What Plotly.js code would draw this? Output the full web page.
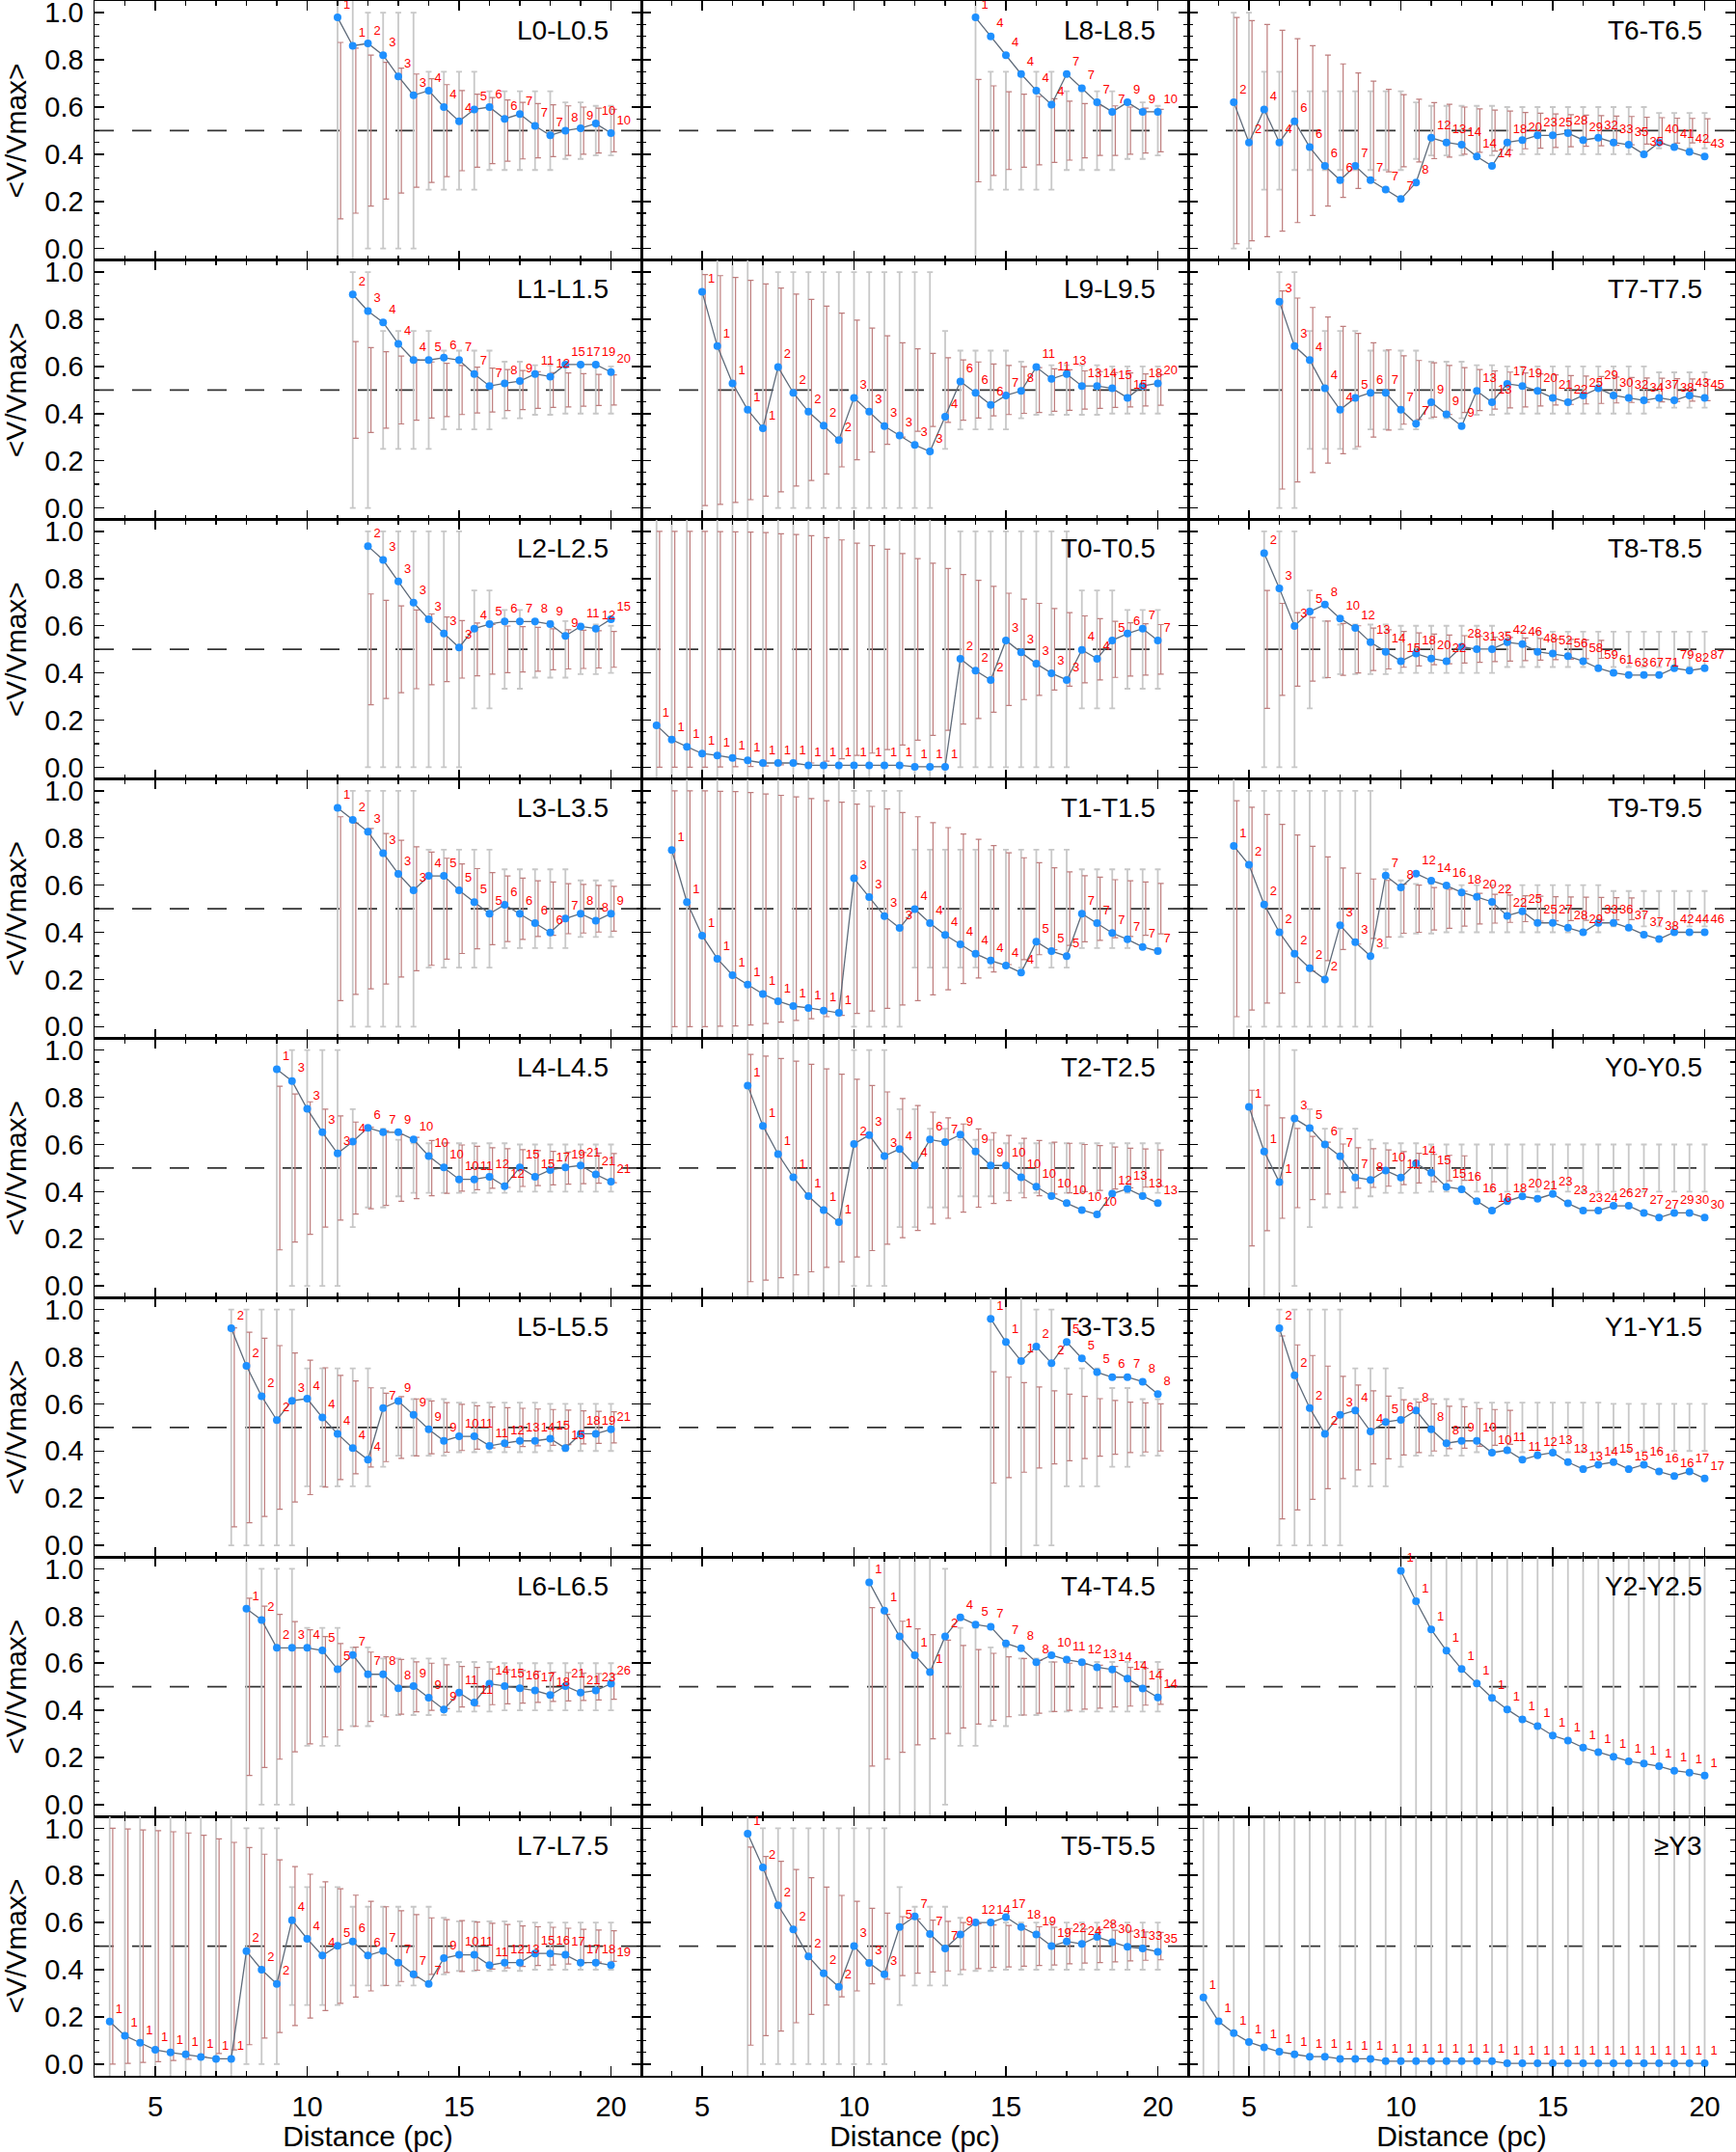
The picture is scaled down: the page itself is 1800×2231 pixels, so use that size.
<!DOCTYPE html>
<html><head><meta charset="utf-8">
<script src="https://cdn.plot.ly/plotly-3.0.1.min.js"></script>
<style>html,body{margin:0;padding:0;background:#fff}#chart{width:1800px;height:2231px}</style>
</head><body><div id="chart"></div>
<script>
// distance grid (pc)
const distances = [3.5,4,4.5,5,5.5,6,6.5,7,7.5,8,8.5,9,9.5,10,10.5,11,11.5,12,12.5,13,13.5,14,14.5,15,15.5,16,16.5,17,17.5,18,18.5,19,19.5,20];

// gray reference bars: half-width by minimum count
const grayMinCount = [1, 2, 4, 6, 8, 10, 15, 36];
const grayHalf     = [0.6, 0.5, 0.25, 0.167, 0.12, 0.105, 0.1, 0.075];

const panelNames = ["L0-L0.5","L8-L8.5","T6-T6.5","L1-L1.5","L9-L9.5","T7-T7.5","L2-L2.5","T0-T0.5","T8-T8.5",
  "L3-L3.5","T1-T1.5","T9-T9.5","L4-L4.5","T2-T2.5","Y0-Y0.5","L5-L5.5","T3-T3.5","Y1-Y1.5",
  "L6-L6.5","T4-T4.5","Y2-Y2.5","L7-L7.5","T5-T5.5","\u2265Y3"];

const L0_values = [0.98,0.86,0.87,0.82,0.73,0.65,0.67,0.60,0.54,0.59,0.60,0.55,0.57,0.52,0.48,0.50,0.51,0.53,0.49];
const L0_counts = [1,1,2,3,3,3,4,4,4,5,6,6,7,7,7,8,9,10,10];
const L0_redHalf = [0.374,0.35,0.32,0.29,0.265,0.24,0.22,0.195,0.17,0.155,0.14,0.13,0.12,0.115,0.11,0.105,0.10,0.095,0.09];

const L8_values = [0.98,0.90,0.82,0.74,0.67,0.61,0.74,0.68,0.62,0.58,0.62,0.58,0.58];
const L8_counts = [1,4,4,4,4,4,7,7,7,7,9,9,10];
const L8_redHalf = [0.217,0.19,0.165,0.155,0.145,0.135,0.125,0.115,0.105,0.105,0.10,0.095,0.09];

const T6_values = [0.62,0.45,0.59,0.45,0.54,0.43,0.35,0.29,0.35,0.29,0.25,0.21,0.28,0.47,0.45,0.44,0.39,0.35,0.45,0.46,0.48,0.48,0.49,0.46,0.47,0.45,0.44,0.40,0.45,0.43,0.41,0.39];
const T6_counts = [2,2,4,4,6,6,6,6,7,7,7,7,8,12,13,14,14,14,18,20,23,25,28,29,32,33,35,35,40,41,42,43];
const T6_redHalf = [0.48,0.467,0.45,0.426,0.39,0.36,0.32,0.283,0.245,0.21,0.175,0.153,0.133,0.119,0.112,0.10,0.092,0.087,0.083,0.077,0.074,0.071,0.068,0.066,0.064,0.062,0.06,0.057,0.055,0.053,0.052,0.05];

const L1_values = [0.905,0.835,0.787,0.696,0.627,0.627,0.637,0.627,0.568,0.517,0.528,0.538,0.568,0.557,0.608,0.608,0.608,0.576];
const L1_counts = [2,3,4,4,4,5,6,7,7,7,8,9,11,12,15,17,19,20];
const L1_redHalf = [0.205,0.18,0.162,0.144,0.128,0.119,0.113,0.104,0.097,0.093,0.087,0.083,0.078,0.074,0.072,0.069,0.066,0.064];

const L9_values = [0.917,0.686,0.528,0.416,0.338,0.597,0.488,0.408,0.349,0.288,0.467,0.408,0.347,0.307,0.267,0.239,0.387,0.536,0.488,0.437,0.477,0.496,0.597,0.547,0.568,0.517,0.517,0.507,0.467,0.517,0.528];
const L9_counts = [1,1,1,1,1,2,2,2,2,2,3,3,3,3,3,3,4,6,6,6,7,8,11,11,13,13,14,15,15,18,20];
const L9_redHalf = [0.49,0.485,0.477,0.465,0.45,0.432,0.407,0.384,0.356,0.326,0.296,0.263,0.23,0.2,0.175,0.155,0.137,0.128,0.119,0.11,0.104,0.099,0.095,0.09,0.086,0.081,0.078,0.074,0.072,0.068,0.065];

const T7_values = [0.875,0.686,0.627,0.507,0.416,0.467,0.488,0.488,0.416,0.357,0.448,0.397,0.347,0.496,0.448,0.526,0.517,0.496,0.467,0.448,0.477,0.507,0.477,0.467,0.456,0.467,0.456,0.477,0.467];
const T7_counts = [3,3,4,4,4,5,6,7,7,7,9,9,9,13,13,17,19,20,21,22,25,29,30,32,34,37,38,43,45];
const T7_redHalf = [0.42,0.39,0.35,0.31,0.27,0.24,0.2,0.17,0.145,0.125,0.115,0.104,0.095,0.087,0.081,0.076,0.072,0.068,0.064,0.061,0.059,0.057,0.055,0.053,0.051,0.05,0.048,0.047,0.045];

const L2_values = [0.938,0.879,0.788,0.698,0.628,0.567,0.508,0.588,0.607,0.618,0.618,0.618,0.607,0.557,0.597,0.588,0.628];
const L2_counts = [2,3,3,3,3,3,3,4,5,6,7,8,9,9,11,12,15];
const L2_redHalf = [0.235,0.208,0.184,0.167,0.15,0.137,0.122,0.112,0.105,0.099,0.096,0.093,0.087,0.083,0.081,0.079,0.076];

const T0_values = [0.178,0.117,0.087,0.058,0.050,0.039,0.029,0.018,0.018,0.018,0.008,0.008,0.008,0.008,0.008,0.008,0.008,0.002,0.002,0.002,0.460,0.410,0.370,0.538,0.487,0.439,0.399,0.370,0.498,0.460,0.538,0.567,0.588,0.538];
const T0_counts = [1,1,1,1,1,1,1,1,1,1,1,1,1,1,1,1,1,1,1,1,2,2,2,3,3,3,3,3,4,4,5,6,7,7];
const T0_redHalf = [0.5,0.5,0.5,0.5,0.499,0.498,0.497,0.495,0.49,0.487,0.482,0.474,0.464,0.45,0.44,0.425,0.406,0.385,0.365,0.343,0.317,0.293,0.267,0.238,0.213,0.195,0.173,0.156,0.142,0.13,0.119,0.113,0.109,0.105];

const T8_values = [0.908,0.759,0.599,0.660,0.690,0.631,0.591,0.530,0.490,0.450,0.482,0.461,0.450,0.511,0.501,0.501,0.530,0.522,0.490,0.482,0.471,0.450,0.420,0.401,0.391,0.391,0.391,0.420,0.410,0.420];
const T8_counts = [2,3,3,5,8,10,12,13,14,15,18,20,22,28,31,35,42,46,48,52,56,58,59,61,63,67,71,79,82,87];
const T8_redHalf = [0.25,0.195,0.156,0.135,0.12,0.11,0.1,0.09,0.083,0.076,0.07,0.065,0.061,0.058,0.055,0.052,0.05,0.048,0.046,0.044,0.042,0.04,0.038,null,null,null,null,null,null,null];

const L3_values = [0.928,0.877,0.827,0.736,0.648,0.578,0.639,0.639,0.578,0.528,0.479,0.517,0.479,0.439,0.399,0.458,0.479,0.449,0.479];
const L3_counts = [1,2,3,3,3,3,4,5,5,5,5,6,6,6,6,7,8,8,9];
const L3_redHalf = [0.39,0.363,0.34,0.319,0.29,0.263,0.24,0.214,0.19,0.17,0.153,0.139,0.13,0.118,0.113,0.106,0.103,0.099,0.095];

const T1_values = [0.749,0.528,0.386,0.288,0.218,0.178,0.138,0.108,0.087,0.079,0.068,0.058,0.629,0.549,0.469,0.418,0.498,0.439,0.389,0.349,0.309,0.280,0.259,0.229,0.360,0.320,0.299,0.479,0.439,0.397,0.370,0.338,0.320];
const T1_counts = [1,1,1,1,1,1,1,1,1,1,1,1,3,3,3,3,4,4,4,4,4,4,4,4,5,5,5,7,7,7,7,7,7];
const T1_redHalf = [0.5,0.5,0.5,0.498,0.497,0.493,0.487,0.481,0.474,0.467,0.458,0.452,0.444,0.434,0.423,0.408,0.39,0.365,0.344,0.317,0.294,0.268,0.237,0.216,0.195,0.174,0.156,0.14,0.134,0.123,0.118,0.113,0.107];

const T9_values = [0.766,0.686,0.518,0.400,0.309,0.248,0.200,0.430,0.358,0.299,0.640,0.590,0.649,0.619,0.598,0.569,0.550,0.529,0.470,0.489,0.440,0.440,0.419,0.400,0.440,0.440,0.419,0.390,0.371,0.400,0.400,0.400];
const T9_counts = [1,2,2,2,2,2,2,3,3,3,7,8,12,14,16,18,20,22,22,25,25,27,28,29,33,36,37,37,38,42,44,46];
const T9_redHalf = [0.458,0.43,0.40,0.358,0.313,0.265,0.22,0.173,0.15,0.126,0.12,0.104,0.1,0.09,0.083,0.074,0.065,0.061,0.058,0.055,0.053,0.051,0.05,0.049,0.048,0.047,0.046,null,null,null,null,null];

const L4_values = [0.919,0.869,0.751,0.652,0.562,0.612,0.671,0.652,0.652,0.621,0.551,0.503,0.452,0.452,0.463,0.423,0.503,0.463,0.492,0.503,0.511,0.473,0.442];
const L4_counts = [1,3,3,3,3,4,6,7,9,10,10,10,10,11,12,12,15,15,17,19,21,21,21];
const L4_redHalf = [0.347,0.314,0.281,0.25,0.221,0.195,0.173,0.158,0.141,0.13,0.117,0.107,0.098,0.092,0.086,0.082,0.078,0.074,0.071,0.068,0.066,0.064,0.062];

const T2_values = [0.850,0.679,0.559,0.461,0.381,0.322,0.271,0.602,0.640,0.551,0.581,0.511,0.621,0.610,0.642,0.570,0.511,0.511,0.461,0.421,0.381,0.351,0.322,0.303,0.391,0.412,0.381,0.351];
const T2_counts = [1,1,1,1,1,1,1,2,3,3,4,4,6,7,9,9,9,10,10,10,10,10,10,10,12,13,13,13];
const T2_redHalf = [0.482,0.475,0.465,0.453,0.44,0.421,0.398,0.377,0.35,0.323,0.295,0.265,0.237,0.213,0.187,0.166,0.15,0.138,0.126,0.117,0.11,0.105,0.1,0.095,0.089,0.084,0.081,0.077];

const Y0_values = [0.76,0.57,0.44,0.71,0.67,0.60,0.55,0.46,0.45,0.49,0.46,0.52,0.48,0.42,0.41,0.36,0.32,0.36,0.38,0.37,0.39,0.35,0.32,0.32,0.34,0.34,0.31,0.29,0.31,0.31,0.29];
const Y0_counts = [1,1,1,3,5,6,7,7,8,10,11,14,15,15,16,16,16,18,20,21,23,23,23,24,26,27,27,27,29,30,30];
const Y0_redHalf = [0.33,0.266,0.213,0.168,0.134,0.11,0.102,0.086,0.082,0.077,0.07,0.063,0.058,0.054,0.052,null,null,null,null,null,null,null,null,null,null,null,null,null,null,null,null];

const L5_values = [0.921,0.761,0.632,0.531,0.613,0.622,0.542,0.473,0.412,0.363,0.582,0.612,0.553,0.492,0.443,0.462,0.462,0.422,0.433,0.443,0.443,0.452,0.412,0.473,0.473,0.492];
const L5_counts = [2,2,2,2,3,4,4,4,4,4,7,9,9,9,9,10,11,11,12,13,14,15,15,18,19,21];
const L5_redHalf = [0.422,0.404,0.378,0.347,0.316,0.285,0.253,0.221,0.197,0.168,0.145,0.131,0.121,0.112,0.105,0.098,0.092,0.087,0.084,0.081,0.078,0.076,0.073,0.07,0.068,0.066];

const T3_values = [0.961,0.862,0.782,0.843,0.772,0.862,0.793,0.734,0.713,0.713,0.694,0.641];
const T3_counts = [1,1,1,2,2,5,5,5,6,7,8,8];
const T3_redHalf = [0.236,0.213,0.19,0.172,0.155,0.141,0.132,0.122,0.114,0.107,0.104,0.1];

const Y1_values = [0.921,0.721,0.582,0.473,0.553,0.572,0.483,0.523,0.532,0.572,0.492,0.433,0.443,0.443,0.393,0.403,0.363,0.382,0.393,0.353,0.323,0.342,0.353,0.323,0.342,0.313,0.294,0.313,0.283];
const Y1_counts = [2,2,2,2,3,4,4,5,6,8,8,8,9,10,10,11,11,12,13,13,13,14,15,15,16,16,16,17,17];
const Y1_redHalf = [0.388,0.35,0.305,0.26,0.217,0.18,0.155,0.133,0.117,0.107,0.1,0.09,0.088,0.08,0.076,0.072,null,null,null,null,null,null,null,null,null,null,null,null,null];

const L6_values = [0.831,0.783,0.665,0.665,0.665,0.654,0.574,0.635,0.553,0.553,0.494,0.503,0.454,0.404,0.475,0.433,0.513,0.503,0.494,0.484,0.465,0.503,0.475,0.484,0.513];
const L6_counts = [1,2,2,3,4,5,5,7,7,8,8,9,9,9,11,11,14,15,16,17,18,21,21,23,26];
const L6_redHalf = [0.376,0.342,0.307,0.276,0.242,0.213,0.183,0.168,0.147,0.127,0.116,0.106,0.1,0.093,0.086,0.082,0.076,0.072,0.069,0.066,0.062,0.06,0.058,0.056,0.053];

const T4_values = [0.943,0.823,0.714,0.634,0.562,0.714,0.794,0.764,0.754,0.684,0.663,0.604,0.634,0.615,0.604,0.583,0.573,0.535,0.493,0.455];
const T4_counts = [1,1,1,1,1,2,4,5,7,7,8,8,10,11,12,13,14,14,14,14];
const T4_redHalf = [0.336,0.307,0.278,0.246,0.221,0.198,0.175,0.158,0.142,0.127,0.12,0.112,0.105,0.1,0.095,0.091,0.086,0.082,0.078,0.074];

const Y2_values = [0.992,0.863,0.743,0.653,0.575,0.514,0.453,0.404,0.362,0.333,0.293,0.272,0.242,0.223,0.203,0.184,0.174,0.163,0.144,0.136,0.123];
const Y2_counts = [1,1,1,1,1,1,1,1,1,1,1,1,1,1,1,1,1,1,1,1,1];
const Y2_redHalf = Y2_values.map(() => null);

const L7_values = [0.180,0.120,0.090,0.060,0.049,0.041,0.030,0.022,0.022,0.479,0.400,0.340,0.610,0.531,0.460,0.501,0.520,0.460,0.480,0.430,0.381,0.340,0.449,0.463,0.463,0.419,0.430,0.430,0.469,0.469,0.463,0.430,0.430,0.419];
const L7_counts = [1,1,1,1,1,1,1,1,1,2,2,2,4,4,4,5,6,6,7,7,7,7,9,10,11,11,12,13,15,16,17,17,18,19];
const L7_redHalf = [0.5,0.497,0.493,0.49,0.485,0.48,0.47,0.455,0.44,0.418,0.39,0.366,0.337,0.305,0.273,0.243,0.216,0.19,0.167,0.15,0.134,0.12,0.112,0.108,0.102,0.097,0.092,0.086,0.082,0.08,0.076,0.071,0.068,0.065];

const T5_values = [0.977,0.834,0.673,0.571,0.456,0.385,0.327,0.500,0.429,0.381,0.581,0.626,0.551,0.490,0.549,0.600,0.600,0.623,0.581,0.549,0.500,0.520,0.509,0.539,0.517,0.497,0.490,0.476];
const T5_counts = [1,2,2,2,2,2,2,3,3,3,5,7,7,7,9,12,14,17,18,19,19,22,24,28,30,31,33,35];
const T5_redHalf = [0.42,0.38,0.36,0.325,0.29,0.25,0.215,0.19,0.16,0.14,0.125,0.115,0.11,0.105,0.10,0.095,0.09,0.088,0.085,0.082,0.08,0.075,0.072,0.07,0.067,0.063,0.06,0.058];

const Y3_values = [0.282,0.181,0.131,0.093,0.071,0.052,0.041,0.031,0.031,0.022,0.022,0.022,0.012,0.012,0.012,0.012,0.012,0.012,0.012,0.012,0.003,0.003,0.003,0.003,0.003,0.003,0.003,0.003,0.003,0.003,0.003,0.003,0.003,0.003];
const Y3_counts = Y3_values.map(() => 1);
const Y3_redHalf = Y3_values.map(() => null);

const panels = [
  [L0_values,L0_counts,L0_redHalf],[L8_values,L8_counts,L8_redHalf],[T6_values,T6_counts,T6_redHalf],
  [L1_values,L1_counts,L1_redHalf],[L9_values,L9_counts,L9_redHalf],[T7_values,T7_counts,T7_redHalf],
  [L2_values,L2_counts,L2_redHalf],[T0_values,T0_counts,T0_redHalf],[T8_values,T8_counts,T8_redHalf],
  [L3_values,L3_counts,L3_redHalf],[T1_values,T1_counts,T1_redHalf],[T9_values,T9_counts,T9_redHalf],
  [L4_values,L4_counts,L4_redHalf],[T2_values,T2_counts,T2_redHalf],[Y0_values,Y0_counts,Y0_redHalf],
  [L5_values,L5_counts,L5_redHalf],[T3_values,T3_counts,T3_redHalf],[Y1_values,Y1_counts,Y1_redHalf],
  [L6_values,L6_counts,L6_redHalf],[T4_values,T4_counts,T4_redHalf],[Y2_values,Y2_counts,Y2_redHalf],
  [L7_values,L7_counts,L7_redHalf],[T5_values,T5_counts,T5_redHalf],[Y3_values,Y3_counts,Y3_redHalf]
];

function grayFor(n){ let h = grayHalf[0]; for (let i=0;i<grayMinCount.length;i++){ if (n>=grayMinCount[i]) h = grayHalf[i]; } return h; }

const FONT = "Liberation Sans, Arial, Helvetica, sans-serif";
const NROWS = 8, NCOLS = 3;
const data = [];
const layout = {
  width: 1800, height: 2231,
  margin: {l: 98, r: 1, t: 1, b: 79},
  paper_bgcolor: '#fff', plot_bgcolor: '#fff',
  showlegend: false,
  font: {family: FONT, color: '#000'},
  shapes: [], annotations: []
};

panels.forEach((p, i) => {
  const [vals, counts, red] = p;
  const xs = distances.slice(distances.length - vals.length);
  const r = Math.floor(i / NCOLS), c = i % NCOLS;
  const k = i === 0 ? '' : String(i + 1);
  const xa = 'x' + k, ya = 'y' + k;

  // gray bars
  data.push({
    type: 'scatter', mode: 'markers', xaxis: xa, yaxis: ya, hoverinfo: 'skip',
    x: xs, y: xs.map(() => 0.5),
    marker: {size: 2, color: 'rgba(0,0,0,0)'},
    error_y: {type: 'data', symmetric: true, array: counts.map(grayFor), color: '#c8c8c8', thickness: 1.8, width: 3}
  });
  // red bars (offset slightly right)
  const rx = [], rh = [];
  xs.forEach((x, j) => { if (red[j] !== null && red[j] !== undefined) { rx.push(x + 0.1); rh.push(red[j]); } });
  if (rx.length) {
    data.push({
      type: 'scatter', mode: 'markers', xaxis: xa, yaxis: ya, hoverinfo: 'skip',
      x: rx, y: rx.map(() => 0.5),
      marker: {size: 2, color: 'rgba(0,0,0,0)'},
      error_y: {type: 'data', symmetric: true, array: rh, color: 'rgb(190,125,125)', thickness: 1.2, width: 3}
    });
  }
  // data line + points + count labels
  data.push({
    type: 'scatter', mode: 'lines+markers+text', xaxis: xa, yaxis: ya,
    x: xs, y: vals, text: counts.map(String), textposition: 'top right', cliponaxis: false,
    textfont: {color: '#ff0000', size: 13, family: FONT},
    line: {color: '#5f6b7a', width: 1.3},
    marker: {size: 8, color: '#1e90ff'}
  });

  const common = {
    showline: true, linecolor: '#000', linewidth: 1.5, mirror: 'allticks',
    ticks: 'inside', tickcolor: '#000', tickwidth: 1.5, ticklen: 10,
    showgrid: false, zeroline: false, fixedrange: true, ticklabeloverflow: 'allow',
    tickfont: {size: 29, family: FONT, color: '#000'}
  };
  layout['xaxis' + k] = Object.assign({}, common, {
    domain: [c / NCOLS, (c + 1) / NCOLS], anchor: ya,
    range: [3, 21], tickmode: 'linear', tick0: 0, dtick: 5,
    showticklabels: r === NROWS - 1, ticklabelstandoff: 6,
    minor: {dtick: 1, ticks: 'inside', ticklen: 5, tickwidth: 1.2, tickcolor: '#000', showgrid: false},
    title: r === NROWS - 1 ? {text: 'Distance (pc)', font: {size: 30, family: FONT, color: '#000'}, standoff: 6} : {text: ''}
  });
  layout['yaxis' + k] = Object.assign({}, common, {
    domain: [1 - (r + 1) / NROWS, 1 - r / NROWS], anchor: xa,
    range: [-0.05, 1.05], tickmode: 'linear', tick0: 0, dtick: 0.2, tickformat: '.1f',
    showticklabels: c === 0, ticklabelstandoff: 4,
    minor: {dtick: 0.05, ticks: 'inside', ticklen: 5, tickwidth: 1.2, tickcolor: '#000', showgrid: false},
    title: c === 0 ? {text: '<V/Vmax>', font: {size: 30, family: FONT, color: '#000'}, standoff: 14} : {text: ''}
  });

  layout.shapes.push({
    type: 'line', xref: xa + ' domain', yref: ya, x0: 0, x1: 1, y0: 0.5, y1: 0.5,
    line: {color: '#333', width: 1.8, dash: '20px,19px'}, layer: 'below'
  });
  layout.annotations.push({
    xref: xa + ' domain', yref: ya + ' domain', x: 0.944, y: 0.888,
    xanchor: 'right', yanchor: 'middle', showarrow: false,
    text: panelNames[i], font: {size: 28, family: FONT, color: '#000'}
  });
});

Plotly.newPlot('chart', data, layout, {staticPlot: true, displayModeBar: false});
</script>
</body></html>
